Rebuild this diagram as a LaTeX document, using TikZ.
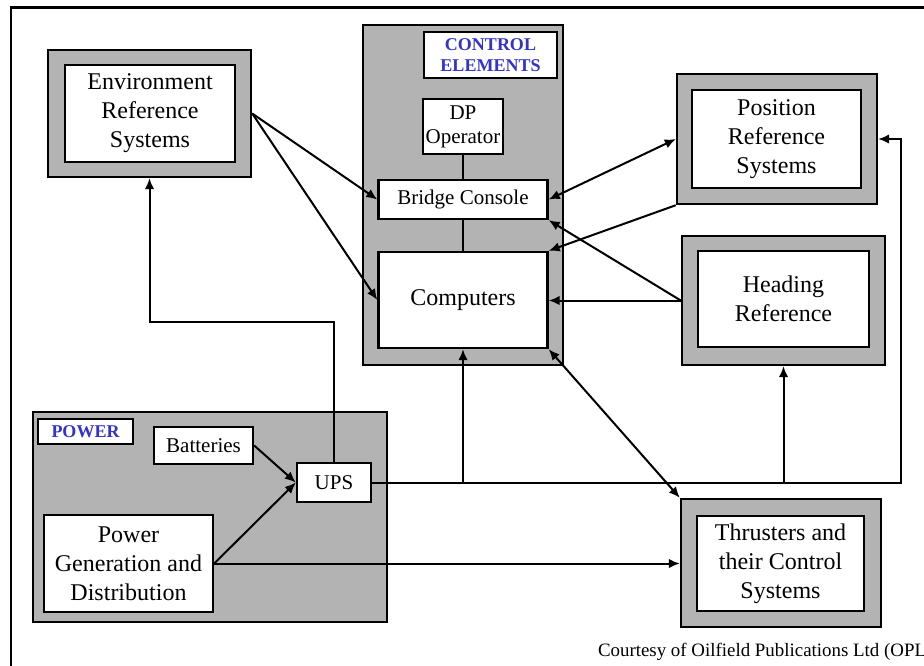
\documentclass[tikz,border=0pt]{standalone}
\usepackage{fontspec}
\setmainfont{Liberation Serif}
\usetikzlibrary{arrows.meta}
\definecolor{boxgrey}{RGB}{179,179,179}
\definecolor{lblblue}{RGB}{51,51,204}
\begin{document}
\begin{tikzpicture}[x=1pt,y=-1pt, line width=2pt,
  grp/.style={draw, fill=boxgrey, inner sep=0pt, line width=2.4pt},
  inbox/.style={draw, fill=white, inner sep=0pt, line width=2.4pt, align=center, font=\fontsize{24}{29}\selectfont},
  smallbox/.style={draw, fill=white, inner sep=0pt, line width=2.4pt, align=center, font=\fontsize{21}{24}\selectfont},
  tagbox/.style={draw, fill=white, inner sep=0pt, line width=2.4pt, align=center, text=lblblue, font=\fontsize{18}{21}\selectfont\bfseries},
  link/.style={line width=2pt},
  arr/.style={link, -{Latex[length=11pt,width=9.5pt]}},
  darr/.style={link, {Latex[length=11pt,width=9.5pt]}-{Latex[length=11pt,width=9.5pt]}},
]
\useasboundingbox (0,0) rectangle (924,665);
\clip (0,0) rectangle (924,665);
\fill[white] (0,0) rectangle (924,665);
\draw[line width=2.2pt] (11,7.5) rectangle (980,720);

% group boxes
\node[grp, minimum width=203pt, minimum height=127pt] (envO) at (149.5,113.5) {};
\node[inbox, minimum width=170pt, minimum height=97pt] (envI) at (150,113.5) {Environment\\Reference\\Systems};

\node[grp, minimum width=200pt, minimum height=340pt] (ctrl) at (463,195) {};
\node[tagbox, minimum width=133pt, minimum height=46pt] (ctrlL) at (490.5,55) {CONTROL\\ELEMENTS};
\node[smallbox, minimum width=80pt, minimum height=55pt] (dp) at (463,126.5) {DP\\Operator};
\node[smallbox, minimum width=169pt, minimum height=39pt] (bridge) at (463,199.5) {Bridge Console};
\node[inbox, minimum width=169pt, minimum height=96pt] (comp) at (463,300) {Computers};

\node[grp, minimum width=200pt, minimum height=130pt] (posO) at (777,139) {};
\node[inbox, minimum width=169pt, minimum height=98pt] (posI) at (776.5,139) {Position\\Reference\\Systems};

\node[grp, minimum width=203pt, minimum height=129pt] (headO) at (783.5,300.5) {};
\node[inbox, minimum width=171pt, minimum height=96pt] (headI) at (783.5,299) {Heading\\Reference};

\node[grp, minimum width=354pt, minimum height=210pt] (power) at (210,517) {};
\node[tagbox, minimum width=95pt, minimum height=25pt] (powerL) at (85.5,431.5) {POWER};
\node[smallbox, minimum width=99pt, minimum height=37pt] (batt) at (203.5,445.5) {Batteries};
\node[smallbox, minimum width=74pt, minimum height=39pt] (ups) at (334,482.5) {UPS};
\node[inbox, minimum width=169pt, minimum height=97pt] (gen) at (128.5,563.5) {Power\\Generation and\\Distribution};

\node[grp, minimum width=200pt, minimum height=128pt] (thrO) at (781,563) {};
\node[inbox, minimum width=167pt, minimum height=95pt] (thrI) at (780.5,563.5) {Thrusters and\\their Control\\Systems};

% plain links inside control elements
\draw[link] (dp.south) -- (bridge.north);
\draw[link] (bridge.south) -- (comp.north);

% connectors
\draw[arr] (envO.east) -- (bridge.west);
\draw[arr] (envO.east) -- (comp.west);
\draw[darr] (bridge.east) -- (posO.west);
\draw[arr] (posO.south west) -- (comp.north east);
\draw[arr] (headO.west) -- (bridge.south east);
\draw[arr] (headO.west) -- (headO.west -| comp.east);
\draw[darr] (comp.south east) -- (thrO.north west);
\draw[arr] (batt.east) -- (ups.west);
\draw[arr] (gen.east) -- (ups.west);
\draw[arr] (gen.east) -- (gen.east -| thrO.west);

\coordinate (busR) at (901,482.5);
\draw[arr] (ups.east) -- (busR) |- (posO.east);
\draw[arr] (comp.south |- ups.east) -- (comp.south);
\draw[arr] (headO.south |- ups.east) -- (headO.south);
\coordinate (upTurn) at (334,322);
\draw[arr] (ups.north) -- (upTurn) -| (envO.south);

% credit
\node[anchor=base west, inner sep=0pt, font=\fontsize{18.9}{22}\selectfont] (credit) at (597,656) {Courtesy of Oilfield Publications Ltd (OPL)};
\end{tikzpicture}
\end{document}
